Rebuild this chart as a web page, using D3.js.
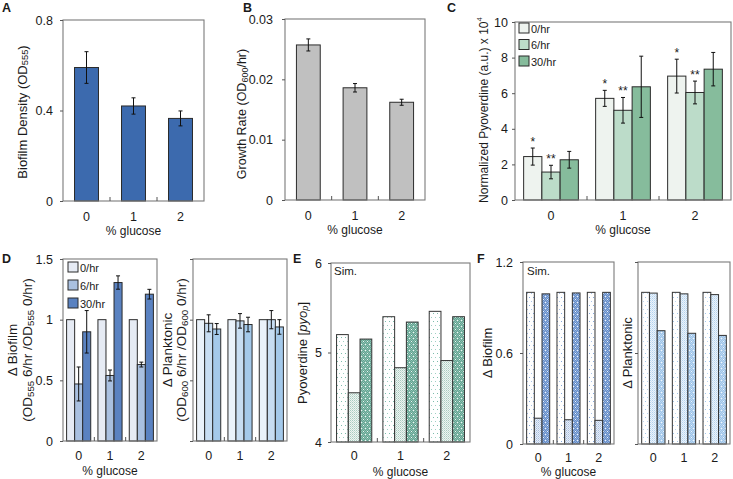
<!DOCTYPE html>
<html><head><meta charset="utf-8">
<script src="https://cdn.jsdelivr.net/npm/d3@7"></script>
<style>body{margin:0;background:#fff} svg{display:block} text{font-family:"Liberation Sans",Arial,sans-serif;fill:#1a1a1a}</style>
</head><body><svg id="c" width="733" height="479"></svg>
<script>
// ---------- data ----------
const glucose = ["0", "1", "2"];
const timeSeries = ["0/hr", "6/hr", "30/hr"];

// A: biofilm density
const biofilmDensity = [0.59, 0.42, 0.365];
const biofilmDensityErr = [0.07, 0.036, 0.033];
const ticksA = [0, 0.4, 0.8];

// B: growth rate
const growthRate = [0.0257, 0.0186, 0.0162];
const growthRateErr = [0.001, 0.0007, 0.0005];
const ticksB = [0, 0.01, 0.02, 0.03];

// C: normalized pyoverdine
const pyo0 = [2.44, 5.71, 6.96];
const pyo0Err = [0.48, 0.45, 0.95];
const pyo6 = [1.57, 5.04, 6.04];
const pyo6Err = [0.38, 0.72, 0.64];
const pyo30 = [2.26, 6.36, 7.35];
const pyo30Err = [0.47, 1.72, 0.94];
const pyo0Stars = ["*", "*", "*"];
const pyo6Stars = ["**", "**", "**"];
const ticksC = [0, 2, 4, 6, 8, 10];

// D: delta biofilm / planktonic
const dBio0 = [1, 1, 1];
const dBio6 = [0.47, 0.54, 0.63];
const dBio6Err = [0.14, 0.045, 0.02];
const dBio30 = [0.90, 1.306, 1.21];
const dBio30Err = [0.175, 0.055, 0.04];
const dPlank0 = [1, 1, 1];
const dPlank6 = [0.97, 0.99, 1.0];
const dPlank6Err = [0.07, 0.06, 0.075];
const dPlank30 = [0.923, 0.96, 0.94];
const dPlank30Err = [0.045, 0.06, 0.06];
const ticksD = [0, 0.5, 1, 1.5];

// E: simulated pyoverdine
const simPyo0 = [5.20, 5.40, 5.46];
const simPyo6 = [4.55, 4.83, 4.91];
const simPyo30 = [5.15, 5.34, 5.40];
const ticksE = [4, 5, 6];

// F: simulated delta biofilm / planktonic
const simBio0 = [1, 1, 1];
const simBio6 = [0.17, 0.16, 0.156];
const simBio30 = [0.99, 0.996, 1.0];
const simPlank0 = [1, 1, 1];
const simPlank6 = [0.995, 0.99, 0.985];
const simPlank30 = [0.747, 0.73, 0.716];
const ticksF = [0, 0.6, 1.2];

// ---------- drawing ----------
const svg = d3.select('#c');
const defs = svg.append('defs');

function dotPattern(id, bg, w, h, dots) {
  const p = defs.append('pattern').attr('id', id).attr('patternUnits', 'userSpaceOnUse')
    .attr('width', w).attr('height', h);
  p.append('rect').attr('width', w).attr('height', h).attr('fill', bg);
  dots.forEach(d => p.append('rect').attr('x', d[0]).attr('y', d[1]).attr('width', 1).attr('height', 1).attr('fill', d[2]));
  return `url(#${id})`;
}
function checker(c) { return [[0, 0, c], [2, 0, c], [1, 1, c], [3, 1, c], [0, 2, c], [2, 2, c], [1, 3, c], [3, 3, c], [0, 4, c], [2, 4, c], [1, 5, c], [3, 5, c]]; }
const pE0 = dotPattern('e0', '#ffffff', 4, 8, [[1, 1, '#7dbdac'], [3, 5, '#9fd0c3']]);
const pE6 = dotPattern('e6', '#eef5f2', 2, 2, [[0, 0, '#a9cbc0'], [1, 1, '#c8ddd6']]);
const pE30 = dotPattern('e30', '#62a290', 4, 6, checker('#8dc1b2').concat([[1, 2, '#eef7f4'], [3, 5, '#eef7f4']]));
const pF0 = dotPattern('f0', '#ffffff', 4, 8, [[1, 1, '#86a9dc'], [3, 5, '#a9c2e8']]);
const pF6 = dotPattern('f6', '#e7edf7', 2, 2, [[0, 0, '#a6bedf'], [1, 1, '#c3d3ea']]);
const pF30 = dotPattern('f30', '#628bc6', 4, 6, checker('#93b1df').concat([[1, 2, '#eef3fb'], [3, 5, '#eef3fb']]));
const pG0 = dotPattern('g0', '#ffffff', 4, 8, [[1, 1, '#a3c6ea'], [3, 5, '#bcd6f0']]);
const pG6 = dotPattern('g6', '#eaf3fb', 2, 2, [[0, 0, '#b4d2ee'], [1, 1, '#cfe2f4']]);
const pG30 = dotPattern('g30', '#9cc3e8', 4, 6, checker('#bcd7f1').concat([[1, 2, '#f0f6fc'], [3, 5, '#f0f6fc']]));

function panel(o) {
  const x = d3.scaleBand().domain(glucose).range([o.l, o.r]);
  const y = d3.scaleLinear().domain(o.yDomain).range([o.b, o.t]);
  const g = svg.append('g');
  const n = o.series.length;
  const gw = x.bandwidth() * o.fill;
  const xi = d3.scaleBand().domain(d3.range(n))
    .range([(x.bandwidth() - gw) / 2, (x.bandwidth() + gw) / 2]);
  const base = y(o.yDomain[0]);

  o.series.forEach((s, si) => {
    const data = s.values.map((v, i) => ({ cat: glucose[i], v, e: s.err ? s.err[i] : null, star: s.stars ? s.stars[i] : null }));
    g.selectAll(null).data(data).join('rect')
      .attr('x', d => x(d.cat) + xi(si)).attr('width', xi.bandwidth())
      .attr('y', d => y(d.v)).attr('height', d => base - y(d.v))
      .attr('fill', s.fill).attr('stroke', o.barStroke || '#2b2b2b').attr('stroke-width', 1);
    const eb = data.filter(d => d.e != null);
    const cx = d => x(d.cat) + xi(si) + xi.bandwidth() / 2;
    g.selectAll(null).data(eb).join('line')
      .attr('x1', cx).attr('x2', cx).attr('y1', d => y(d.v + d.e)).attr('y2', d => y(d.v - d.e))
      .attr('stroke', '#111').attr('stroke-width', 1);
    [1, -1].forEach(sg => {
      g.selectAll(null).data(eb).join('line')
        .attr('x1', d => cx(d) - 2).attr('x2', d => cx(d) + 2)
        .attr('y1', d => y(d.v + sg * d.e)).attr('y2', d => y(d.v + sg * d.e))
        .attr('stroke', '#111').attr('stroke-width', 1);
    });
    const st = data.filter(d => d.star);
    g.selectAll(null).data(st).join('text')
      .attr('x', cx).attr('y', d => y(d.v + d.e) - 2)
      .attr('text-anchor', 'middle').attr('font-size', 12).text(d => d.star);
  });

  // frame
  g.append('rect').attr('x', o.l).attr('y', o.t).attr('width', o.r - o.l).attr('height', o.b - o.t)
    .attr('fill', 'none').attr('stroke', '#7a7a7a').attr('stroke-width', 1.1);

  // y axis
  const ya = d3.axisLeft(y).tickValues(o.yTicks).tickSize(3).tickPadding(o.tickGap - 3)
    .tickFormat(o.showY === false ? () => '' : d => String(d));
  const yg = g.append('g').attr('transform', `translate(${o.l},0)`).call(ya);
  yg.select('.domain').remove();
  yg.attr('font-size', o.tickFont || 12).attr('font-family', null);
  yg.selectAll('line').attr('stroke', '#555');
  yg.selectAll('text').attr('fill', '#1a1a1a');

  // x axis labels
  const xa = d3.axisBottom(x).tickSize(0).tickPadding(o.xPad || 11);
  const xg = g.append('g').attr('transform', `translate(0,${o.b})`).call(xa);
  xg.select('.domain').remove();
  xg.attr('font-size', o.tickFont || 12).attr('font-family', null);
  xg.selectAll('text').attr('fill', '#1a1a1a');
  // inward ticks between groups
  g.selectAll(null).data(glucose.slice(1)).join('line')
    .attr('x1', d => x(d)).attr('x2', d => x(d)).attr('y1', o.b).attr('y2', o.b - 4)
    .attr('stroke', '#555');

  if (o.xTitle) {
    g.append('text').attr('x', o.xTitleX != null ? o.xTitleX : (o.l + o.r) / 2)
      .attr('y', o.xTitleY != null ? o.xTitleY : o.b + 34)
      .attr('text-anchor', 'middle').attr('font-size', 12).text('% glucose');
  }
  return { x, y, g };
}

function rich(el, parts) {
  let shift = 0;
  parts.forEach(p => {
    const [t, type] = Array.isArray(p) ? p : [p, ''];
    const ts = el.append('tspan').text(t);
    let target = 0;
    if (type === 'sub') { target = 3; ts.attr('font-size', '0.72em'); }
    if (type === 'sup') { target = -5; ts.attr('font-size', '0.65em'); }
    if (type === 'it') { ts.attr('font-style', 'italic'); }
    if (type === 'itsub') { target = 3; ts.attr('font-size', '0.72em').attr('font-style', 'italic'); }
    if (target !== shift) { ts.attr('dy', target - shift); shift = target; }
  });
}
function vlabel(cx, cy, parts, size) {
  const t = svg.append('text').attr('transform', `translate(${cx},${cy}) rotate(-90)`)
    .attr('text-anchor', 'middle').attr('dominant-baseline', 'central').attr('font-size', size);
  rich(t, parts);
}
function letter(x, y, s) {
  svg.append('text').attr('x', x).attr('y', y).attr('font-weight', 'bold').attr('font-size', 12.5).text(s);
}
function legend(x, y, step, fills) {
  timeSeries.forEach((s, i) => {
    svg.append('rect').attr('x', x).attr('y', y + i * step).attr('width', 10).attr('height', 10)
      .attr('fill', fills[i]).attr('stroke', '#2b2b2b');
    svg.append('text').attr('x', x + 12).attr('y', y + i * step + 9.5).attr('font-size', 11).text(s);
  });
}

// Panel A
panel({ l: 63, r: 204, t: 20, b: 201, yDomain: [0, 0.8], yTicks: ticksA, tickGap: 10, tickFont: 12.5, fill: 0.51,
  series: [{ values: biofilmDensity, err: biofilmDensityErr, fill: '#3c6aae' }], xTitle: true });
vlabel(22, 112, ['Biofilm Density (OD', ['555', 'sub'], ')'], 13);
letter(2, 11.5, 'A');

// Panel B
panel({ l: 285, r: 425, t: 19, b: 200, yDomain: [0, 0.03], yTicks: ticksB, tickGap: 12, tickFont: 12.5, fill: 0.51,
  series: [{ values: growthRate, err: growthRateErr, fill: '#c0c0c0' }], xTitle: true });
vlabel(242, 114, ['Growth Rate (OD', ['600', 'sub'], '/hr)'], 12.5);
letter(243, 11.5, 'B');

// Panel C
const cFills = ['#eef3ef', '#bcdcc9', '#86bc9c'];
panel({ l: 515, r: 731, t: 22, b: 200, yDomain: [0, 10], yTicks: ticksC, tickGap: 7, tickFont: 12.5, fill: 0.76,
  series: [
    { values: pyo0, err: pyo0Err, fill: cFills[0], stars: pyo0Stars },
    { values: pyo6, err: pyo6Err, fill: cFills[1], stars: pyo6Stars },
    { values: pyo30, err: pyo30Err, fill: cFills[2] }], xTitle: true });
vlabel(484, 110, ['Normalized Pyoverdine (a.u.) x 10', ['4', 'sup']], 12);
legend(519, 23, 16.5, cFills);
letter(447, 11.5, 'C');

// Panel D left
const dFills = ['#e6ebf4', '#a9c0e0', '#5a82c1'];
panel({ l: 63, r: 157, t: 259, b: 441, yDomain: [0, 1.5], yTicks: ticksD, tickGap: 10, tickFont: 12.5, fill: 0.77,
  series: [
    { values: dBio0, fill: dFills[0] },
    { values: dBio6, err: dBio6Err, fill: dFills[1] },
    { values: dBio30, err: dBio30Err, fill: dFills[2] }], xTitle: true, xTitleY: 475, xPad: 10 });
vlabel(12, 350, ['Δ Biofilm'], 13.5);
vlabel(27, 350, ['(OD', ['555', 'sub'], ' 6/hr /OD', ['555', 'sub'], ' 0/hr)'], 13.5);
legend(68, 262, 18, dFills);
letter(2, 263, 'D');

// Panel D right
const dpFills = ['#eaf2fa', '#c7ddf2', '#a4c9ea'];
panel({ l: 193, r: 287, t: 259, b: 441, yDomain: [0, 1.5], yTicks: ticksD, tickGap: 10, showY: false, tickFont: 12.5, fill: 0.77,
  series: [
    { values: dPlank0, fill: dpFills[0] },
    { values: dPlank6, err: dPlank6Err, fill: dpFills[1] },
    { values: dPlank30, err: dPlank30Err, fill: dpFills[2] }], xTitle: false, xPad: 10 });
vlabel(167, 350, ['Δ Planktonic'], 13.5);
vlabel(181, 350, ['(OD', ['600', 'sub'], ' 6/hr /OD', ['600', 'sub'], ' 0/hr)'], 13.5);

// Panel E
panel({ l: 331, r: 470, t: 263, b: 442, yDomain: [4, 6], yTicks: ticksE, tickGap: 9, tickFont: 12.5, fill: 0.76, barStroke: '#333',
  series: [
    { values: simPyo0, fill: pE0 },
    { values: simPyo6, fill: pE6 },
    { values: simPyo30, fill: pE30 }], xTitle: true, xTitleY: 475.5, xPad: 9.5 });
vlabel(302, 353, ['Pyoverdine [', ['pyo', 'it'], ['p', 'itsub'], ']'], 13);
svg.append('text').attr('x', 334).attr('y', 275).attr('font-size', 11.5).text('Sim.');
letter(293, 263, 'E');

// Panel F left
panel({ l: 523, r: 614, t: 262, b: 444, yDomain: [0, 1.2], yTicks: ticksF, tickGap: 10, tickFont: 12.5, fill: 0.76, barStroke: '#333',
  series: [
    { values: simBio0, fill: pF0 },
    { values: simBio6, fill: pF6 },
    { values: simBio30, fill: pF30 }], xTitle: true, xTitleY: 476, xPad: 9 });
vlabel(487, 353, ['Δ Biofilm'], 13);
svg.append('text').attr('x', 527).attr('y', 275).attr('font-size', 11.5).text('Sim.');
letter(477, 263, 'F');

// Panel F right
panel({ l: 638, r: 730, t: 262, b: 444, yDomain: [0, 1.2], yTicks: ticksF, tickGap: 10, showY: false, tickFont: 12.5, fill: 0.76, barStroke: '#333',
  series: [
    { values: simPlank0, fill: pG0 },
    { values: simPlank6, fill: pG6 },
    { values: simPlank30, fill: pG30 }], xTitle: false, xPad: 9 });
vlabel(627, 353, ['Δ Planktonic'], 13);
</script></body></html>
